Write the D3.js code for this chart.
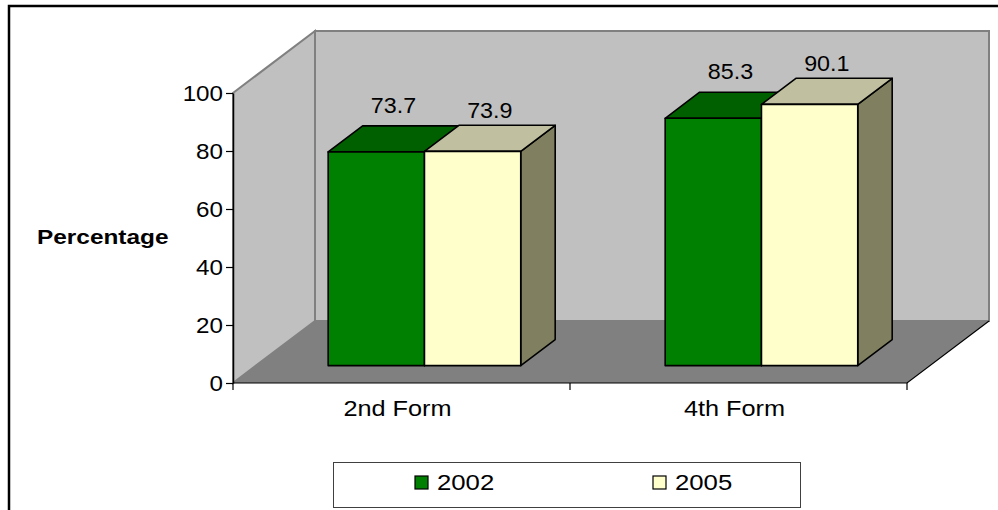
<!DOCTYPE html>
<html>
<head>
<meta charset="utf-8">
<script src="https://cdn.jsdelivr.net/npm/d3@7/dist/d3.min.js"></script>
<style>
  html, body { margin: 0; padding: 0; background: #fff; }
  svg { display: block; }
  text { font-family: "Liberation Sans", Arial, sans-serif; fill: #000; }
</style>
</head>
<body>
<svg id="chart" width="998" height="510"></svg>
<script>
// Data
const categories = ["2nd Form", "4th Form"];
const seriesNames = ["2002", "2005"];
const values2002 = [73.7, 85.3];
const values2005 = [73.9, 90.1];
const yTicks = [0, 20, 40, 60, 80, 100];
const yTitle = "Percentage";

const seriesValues = [values2002, values2005];
const seriesFill = [
  { front: "#008000", top: "#006000", side: "#004d00" },
  { front: "#ffffcc", top: "#c0c0a0", side: "#808060" }
];

const svg = d3.select("#chart");

// Chart frame
svg.append("path")
  .attr("d", "M9,510 V6 H998")
  .attr("fill", "none").attr("stroke", "#000").attr("stroke-width", 2.5);

// Plot geometry (front plane + depth offset)
const plotLeft = 233, plotRight = 907, plotTop = 93, plotBottom = 383;
const depthX = 82, depthY = 62;
const z0 = 0.28, z1 = 0.70; // bar front/back depth fraction

const y = d3.scaleLinear().domain([0, 100]).range([plotBottom, plotTop]);
const x0 = d3.scaleBand().domain(categories).range([plotLeft, plotRight]).padding(0);
const x1 = d3.scaleBand().domain(seriesNames).range([0, x0.bandwidth()])
  .paddingInner(0).paddingOuter(0.75);

const proj = (px, v, z) => [px + z * depthX, y(v) - z * depthY];
const poly = pts => "M" + pts.map(p => p.join(",")).join("L") + "Z";

// Walls and floor
svg.append("path") // back wall
  .attr("d", poly([proj(plotLeft, 0, 1), proj(plotLeft, 100, 1), proj(plotRight, 100, 1), proj(plotRight, 0, 1)]))
  .attr("fill", "#c0c0c0").attr("stroke", "#808080").attr("stroke-width", 2);
svg.append("path") // side wall
  .attr("d", poly([proj(plotLeft, 0, 0), proj(plotLeft, 100, 0), proj(plotLeft, 100, 1), proj(plotLeft, 0, 1)]))
  .attr("fill", "#c0c0c0").attr("stroke", "#808080").attr("stroke-width", 2);
svg.append("path") // floor
  .attr("d", poly([proj(plotLeft, 0, 0), proj(plotRight, 0, 0), proj(plotRight, 0, 1), proj(plotLeft, 0, 1)]))
  .attr("fill", "#808080").attr("stroke", "none");
svg.append("path")
  .attr("d", "M" + proj(plotLeft, 0, 0).join(",") + "L" + proj(plotRight, 0, 0).join(",") + "L" + proj(plotRight, 0, 1).join(","))
  .attr("fill", "none").attr("stroke", "#000").attr("stroke-width", 1.2);

// Y axis
const tickStretch = 1.1;
const yAxis = svg.append("g").attr("transform", `translate(${plotLeft},0)`)
  .call(d3.axisLeft(y).tickValues(yTicks).tickSize(7).tickPadding(3).tickSizeOuter(0));
yAxis.select(".domain").attr("stroke", "#000").attr("stroke-width", 1.5);
yAxis.selectAll(".tick line").attr("stroke", "#000").attr("stroke-width", 1.2);
yAxis.selectAll(".tick text")
  .attr("font-size", 22).attr("font-family", "Liberation Sans, Arial, sans-serif")
  .attr("fill", "#000")
  .attr("x", -10 / tickStretch)
  .attr("transform", `scale(${tickStretch},1)`);

// X axis ticks at band boundaries
const xAxis = svg.append("g").attr("transform", `translate(0,${plotBottom})`);
const edges = categories.map(c => x0(c)).concat([plotRight]);
xAxis.selectAll("line").data(edges).join("line")
  .attr("x1", d => d).attr("x2", d => d).attr("y1", 0).attr("y2", 7)
  .attr("stroke", "#000").attr("stroke-width", 1.2);
xAxis.selectAll("text").data(categories).join("text")
  .attr("text-anchor", "middle")
  .attr("transform", d => `translate(${x0(d) + x0.bandwidth() / 2 - 4},33) scale(1.15,1)`)
  .attr("font-size", 22)
  .text(d => d);

// Y title
svg.append("text")
  .attr("transform", "translate(37,244) scale(1.22,1)")
  .attr("font-size", 20).attr("font-weight", "bold")
  .text(yTitle);

// Bars (3D boxes)
const labelLift = [13, 7];
const bars = svg.append("g");
categories.forEach((cat, ci) => {
  seriesNames.forEach((s, si) => {
    const v = seriesValues[si][ci];
    const xl = x0(cat) + x1(s), xr = xl + x1.bandwidth();
    const f = seriesFill[si];
    const g = bars.append("g").attr("stroke", "#000").attr("stroke-width", 1.6)
      .attr("stroke-linejoin", "round");
    // side face
    g.append("path").attr("fill", f.side)
      .attr("d", poly([proj(xr, 0, z0), proj(xr, v, z0), proj(xr, v, z1), proj(xr, 0, z1)]));
    // top face
    g.append("path").attr("fill", f.top)
      .attr("d", poly([proj(xl, v, z0), proj(xr, v, z0), proj(xr, v, z1), proj(xl, v, z1)]));
    // front face
    g.append("path").attr("fill", f.front)
      .attr("d", poly([proj(xl, 0, z0), proj(xl, v, z0), proj(xr, v, z0), proj(xr, 0, z0)]));
    // value label
    const [lx] = proj((xl + xr) / 2, v, (z0 + z1) / 2);
    const [, ly] = proj(xl, v, z1);
    svg.append("text")
      .attr("text-anchor", "middle")
      .attr("transform", `translate(${lx},${ly - labelLift[si]}) scale(1.06,1)`)
      .attr("font-size", 22)
      .text(v.toFixed(1));
  });
});

// Legend
const legend = svg.append("g");
legend.append("rect")
  .attr("x", 333.5).attr("y", 462.5).attr("width", 467).attr("height", 45)
  .attr("fill", "#fff").attr("stroke", "#404040").attr("stroke-width", 1);
const legendX = [415, 653];
seriesNames.forEach((s, i) => {
  legend.append("rect")
    .attr("x", legendX[i]).attr("y", 476).attr("width", 13).attr("height", 13)
    .attr("fill", seriesFill[i].front).attr("stroke", "#000").attr("stroke-width", 1.2);
  legend.append("text")
    .attr("transform", `translate(${legendX[i] + 22},490) scale(1.17,1)`)
    .attr("font-size", 22)
    .text(s);
});
</script>
</body>
</html>
